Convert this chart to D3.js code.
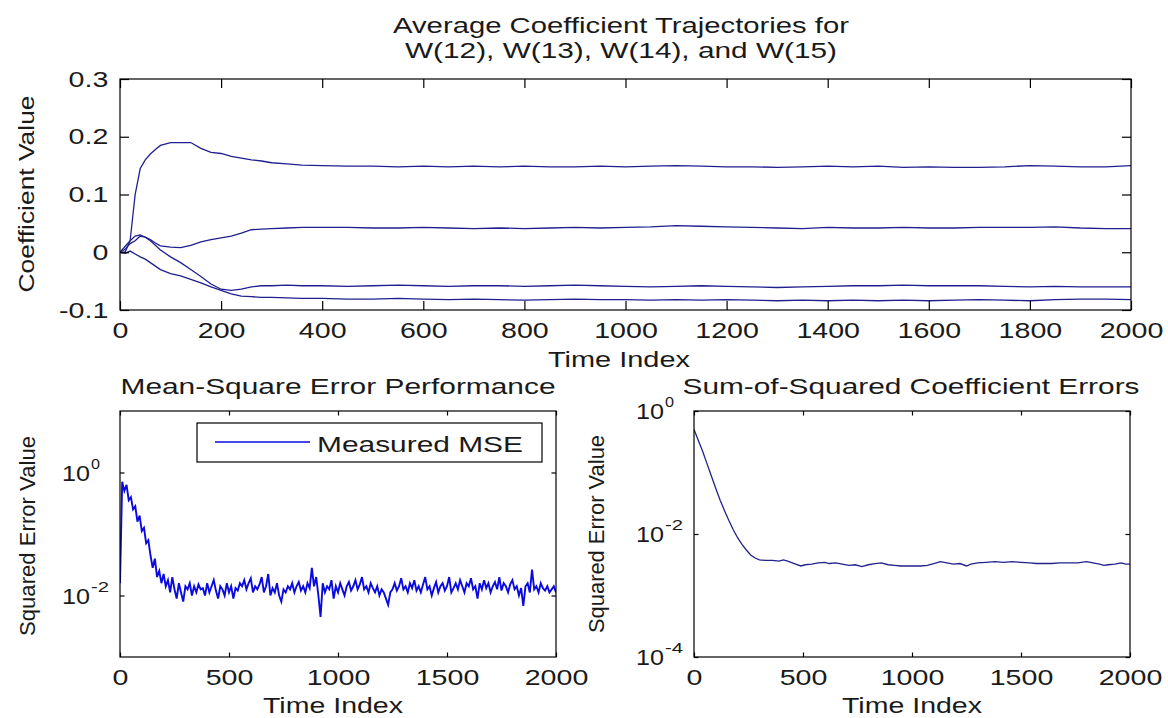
<!DOCTYPE html>
<html>
<head>
<meta charset="utf-8">
<script src="https://cdn.jsdelivr.net/npm/d3@7"></script>
<style>
  body { margin: 0; background: #fff; }
  text { font-family: "Liberation Sans", Arial, sans-serif; fill: #1a1a1a; }
  .axis path, .axis line { stroke: #000; stroke-width: 1.2; }
</style>
</head>
<body>
<div id="chart"></div>
<script>
// Time samples and values for the four coefficient trajectories (top panel).
const topTime = [0, 10, 20, 30, 40, 50, 60, 70, 80, 100, 120, 140, 160, 180, 200, 220, 240, 260, 280, 300,
    330, 360, 400, 450, 500, 550, 600, 650, 700, 750, 800, 850, 900, 950, 1000, 1050, 1100, 1150, 1200, 1250,
    1300, 1350, 1400, 1450, 1500, 1550, 1600, 1650, 1700, 1750, 1800, 1850, 1900, 1950, 2000];
const w12 = [0, 0, 0.02, 0.10, 0.145, 0.16, 0.17, 0.178, 0.185, 0.19, 0.19, 0.19, 0.18, 0.173, 0.171, 0.166, 0.163, 0.16, 0.158, 0.155,
    0.153, 0.151, 0.15, 0.149, 0.149, 0.148, 0.149, 0.148, 0.149, 0.148, 0.149, 0.148, 0.148, 0.149, 0.148, 0.149, 0.150, 0.149, 0.148, 0.148,
    0.147, 0.148, 0.149, 0.148, 0.149, 0.147, 0.148, 0.147, 0.147, 0.148, 0.150, 0.149, 0.148, 0.148, 0.150];
const w13 = [0, 0.005, 0.015, 0.02, 0.028, 0.026, 0.022, 0.016, 0.011, 0.009, 0.008, 0.012, 0.018, 0.022, 0.025, 0.028, 0.033, 0.039, 0.040, 0.041,
    0.042, 0.043, 0.043, 0.043, 0.042, 0.042, 0.043, 0.042, 0.041, 0.042, 0.041, 0.042, 0.043, 0.042, 0.043, 0.044, 0.046, 0.045, 0.044, 0.043,
    0.042, 0.041, 0.043, 0.042, 0.042, 0.043, 0.042, 0.042, 0.043, 0.043, 0.043, 0.044, 0.042, 0.041, 0.041];
const w14 = [0, 0.01, 0.02, 0.028, 0.03, 0.026, 0.02, 0.012, 0.004, -0.008, -0.018, -0.03, -0.042, -0.055, -0.064, -0.066, -0.064, -0.06, -0.058, -0.058,
    -0.057, -0.058, -0.058, -0.059, -0.058, -0.057, -0.058, -0.059, -0.058, -0.058, -0.059, -0.058, -0.057, -0.058, -0.059, -0.06, -0.059, -0.058, -0.059, -0.06,
    -0.061, -0.06, -0.059, -0.058, -0.058, -0.057, -0.058, -0.058, -0.058, -0.059, -0.06, -0.059, -0.06, -0.06, -0.06];
const w15 = [0, -0.002, 0.002, -0.003, -0.008, -0.012, -0.018, -0.024, -0.03, -0.037, -0.041, -0.047, -0.053, -0.06, -0.066, -0.072, -0.076, -0.077, -0.078, -0.078,
    -0.079, -0.080, -0.080, -0.081, -0.081, -0.080, -0.081, -0.082, -0.081, -0.082, -0.083, -0.082, -0.081, -0.082, -0.082, -0.083, -0.082, -0.083, -0.082, -0.083,
    -0.084, -0.083, -0.084, -0.083, -0.084, -0.083, -0.084, -0.083, -0.082, -0.083, -0.084, -0.082, -0.081, -0.081, -0.082];

// Measured MSE, log10 of the value, one sample every 10 time steps from 0 to 2000.
const mseStep = 10;
const mseLog10 = [
    -1.8, -0.15, -0.3, -0.2, -0.45, -0.4, -0.6, -0.55, -0.8, -0.7,
    -0.95, -0.9, -1.15, -1.1, -1.35, -1.55, -1.4, -1.7, -1.6, -1.8,
    -1.65, -1.85, -1.75, -1.95, -1.7, -1.9, -2.05, -1.8, -1.95, -2.1,
    -1.85, -1.9, -1.8, -2.0, -1.85, -1.95, -1.82, -1.9, -1.88, -2.0,
    -1.8, -1.95, -1.85, -1.75, -1.92, -2.05, -1.85, -1.9, -2.0, -1.8,
    -1.95, -1.85, -2.05, -1.88, -1.92, -1.8, -1.85, -1.75, -1.9, -1.8,
    -1.72, -1.95, -1.85, -1.9, -1.82, -1.7, -1.95, -1.85, -1.65, -2.0,
    -1.88, -1.95, -1.8, -2.0, -2.1, -1.9, -1.95, -1.85, -1.9, -1.8,
    -1.95, -1.85, -1.78, -1.92, -1.85, -1.95, -1.8, -1.88, -1.55, -1.85,
    -1.7, -2.0, -2.35, -1.8, -1.95, -1.85, -1.9, -1.75, -2.05, -1.85,
    -1.95, -1.8, -1.9, -2.0, -1.85, -1.78, -1.92, -1.85, -1.75, -1.9,
    -1.82, -1.7, -1.9, -1.85, -1.95, -1.8, -1.88, -1.95, -1.85, -2.0,
    -1.9, -1.95, -2.05, -2.15, -1.95, -1.9, -1.8, -1.92, -1.85, -1.72,
    -1.9, -1.85, -1.95, -1.8, -1.88, -1.75, -1.92, -1.85, -1.95, -1.82,
    -1.7, -1.9, -1.85, -2.0, -1.88, -1.78, -1.95, -1.85, -1.8, -1.92,
    -1.85, -1.7, -1.95, -1.88, -1.8, -1.9, -1.75, -1.85, -1.95, -1.8,
    -1.85, -1.72, -1.9, -1.85, -2.05, -1.8, -1.9, -1.75, -1.88, -1.8,
    -1.95, -1.85, -1.78, -1.9, -1.7, -1.92, -1.8, -1.85, -1.95, -1.82,
    -1.75, -1.9, -1.85, -2.0, -1.88, -2.17, -1.85, -1.8, -1.95, -1.58,
    -1.9, -1.85, -1.95, -1.8, -1.88, -1.92, -1.85, -1.95, -1.9, -1.85,
    -1.95];

// Sum-of-squared coefficient errors, log10 of the value.
const sseTime = [0, 20, 40, 60, 80, 100, 120, 140, 160, 180, 200, 220, 240, 260, 280, 300, 330, 360, 390, 410,
    430, 460, 490, 510, 540, 570, 600, 620, 650, 680, 710, 740, 770, 800, 830, 860, 890, 920, 950, 980,
    1010, 1040, 1070, 1100, 1130, 1160, 1190, 1220, 1250, 1270, 1300, 1340, 1380, 1420, 1460, 1500, 1540, 1570, 1600, 1640,
    1680, 1720, 1760, 1800, 1830, 1860, 1880, 1900, 1930, 1960, 1980, 2000];
const sseLog10 = [-0.3, -0.48, -0.66, -0.86, -1.06, -1.26, -1.45, -1.62, -1.78, -1.93, -2.06, -2.17, -2.26, -2.34, -2.39, -2.42, -2.43, -2.43, -2.44, -2.42,
    -2.44, -2.48, -2.52, -2.50, -2.49, -2.47, -2.46, -2.48, -2.47, -2.49, -2.51, -2.50, -2.53, -2.50, -2.48, -2.47, -2.50, -2.51, -2.52, -2.52,
    -2.52, -2.52, -2.51, -2.48, -2.45, -2.47, -2.49, -2.48, -2.52, -2.49, -2.47, -2.46, -2.45, -2.46, -2.45, -2.46, -2.47, -2.48, -2.48, -2.48,
    -2.47, -2.47, -2.47, -2.45, -2.47, -2.49, -2.51, -2.50, -2.49, -2.47, -2.49, -2.49];

// Tick values and labels.
const topXTicks = [0, 200, 400, 600, 800, 1000, 1200, 1400, 1600, 1800, 2000];
const topYTicks = [-0.1, 0, 0.1, 0.2, 0.3];
const bottomXTicks = [0, 500, 1000, 1500, 2000];
const mseYExponents = [0, -2];
const sseYExponents = [0, -4, -2];
const legendLabels = ["Measured MSE"];

const width = 1168;
const height = 718;
const stretch = 1.3;

const svg = d3.select("#chart")
    .append("svg")
    .attr("width", width)
    .attr("height", height);

// Plot boxes.
const topBox = { left: 120, right: 1131, top: 79, bottom: 310 };
const mseBox = { left: 120, right: 556, top: 411, bottom: 657 };
const sseBox = { left: 694, right: 1130, top: 411, bottom: 657 };

const defs = svg.append("defs");
[["clipTop", topBox], ["clipMse", mseBox], ["clipSse", sseBox]].forEach(function(c) {
    defs.append("clipPath").attr("id", c[0])
        .append("rect")
        .attr("x", c[1].left).attr("y", c[1].top)
        .attr("width", c[1].right - c[1].left).attr("height", c[1].bottom - c[1].top);
});

// Horizontally stretched text helper.
function addText(x, y, str, size, anchor, len) {
    const t = svg.append("text")
        .attr("x", x)
        .attr("y", y)
        .attr("text-anchor", anchor)
        .style("font-size", size + "px")
        .text(str);
    if (len) t.attr("textLength", len).attr("lengthAdjust", "spacingAndGlyphs");
    return t;
}

function addRotated(x, y, str, len) {
    svg.append("text")
        .attr("transform", `translate(${x},${y}) rotate(-90)`)
        .attr("text-anchor", "middle")
        .attr("x", 0).attr("y", 0)
        .attr("textLength", len)
        .attr("lengthAdjust", "spacingAndGlyphs")
        .style("font-size", "22px")
        .text(str);
}

// Draw a MATLAB-like box with inward ticks on all four sides.
function drawFrame(box, xScale, yScale, xTicks, yTicks, tickLen, showYLabels) {
    svg.append("rect")
        .attr("x", box.left).attr("y", box.top)
        .attr("width", box.right - box.left).attr("height", box.bottom - box.top)
        .attr("fill", "none").attr("stroke", "#000").attr("stroke-width", 1.2);

    const bottom = svg.append("g").attr("class", "axis")
        .attr("transform", `translate(0,${box.bottom})`)
        .call(d3.axisBottom(xScale).tickValues(xTicks).tickSizeInner(-tickLen).tickSizeOuter(0).tickPadding(12).tickFormat(String));
    bottom.selectAll("text")
        .style("font-size", "22px")
        .attr("transform", `scale(${stretch},1)`);

    svg.append("g").attr("class", "axis")
        .attr("transform", `translate(0,${box.top})`)
        .call(d3.axisTop(xScale).tickValues(xTicks).tickSizeInner(-tickLen).tickSizeOuter(0).tickFormat(""));

    const left = svg.append("g").attr("class", "axis")
        .attr("transform", `translate(${box.left},0)`)
        .call(d3.axisLeft(yScale).tickValues(yTicks).tickSizeInner(-tickLen).tickSizeOuter(0).tickPadding(9)
            .tickFormat(showYLabels ? String : ""));
    left.selectAll("text")
        .style("font-size", "22px")
        .attr("transform", `scale(${stretch},1)`);

    svg.append("g").attr("class", "axis")
        .attr("transform", `translate(${box.right},0)`)
        .call(d3.axisRight(yScale).tickValues(yTicks).tickSizeInner(-tickLen).tickSizeOuter(0).tickFormat(""));

    svg.selectAll(".axis .domain").remove();
}

// ---------- Top panel ----------
const xTop = d3.scaleLinear().domain([0, 2000]).range([topBox.left, topBox.right]);
const yTop = d3.scaleLinear().domain([-0.1, 0.3]).range([topBox.bottom, topBox.top]);

const topLine = d3.line()
    .x(function(d, i) { return xTop(topTime[i]); })
    .y(function(d) { return yTop(d); });

svg.append("g").attr("clip-path", "url(#clipTop)")
    .selectAll("path")
    .data([w12, w13, w14, w15])
    .join("path")
    .attr("d", topLine)
    .attr("fill", "none")
    .attr("stroke", "#1f1f8f")
    .attr("stroke-width", 1.3);

drawFrame(topBox, xTop, yTop, topXTicks, topYTicks, 9, true);

addText(621, 33, "Average Coefficient Trajectories for", 22, "middle", 456);
addText(621, 58, "W(12), W(13), W(14), and W(15)", 22, "middle", 432);
addText(619, 367, "Time Index", 22, "middle", 142);
addRotated(34, 194, "Coefficient Value", 197);

// ---------- Bottom-left: MSE ----------
const xMse = d3.scaleLinear().domain([0, 2000]).range([mseBox.left, mseBox.right]);
const yMse = d3.scaleLog().domain([1e-3, 1e1]).range([mseBox.bottom, mseBox.top]);

const mseLine = d3.line()
    .x(function(d, i) { return xMse(i * mseStep); })
    .y(function(d) { return yMse(Math.pow(10, d)); });

svg.append("g").attr("clip-path", "url(#clipMse)")
    .append("path")
    .datum(mseLog10)
    .attr("d", mseLine)
    .attr("fill", "none")
    .attr("stroke", "#0a0ae0")
    .attr("stroke-width", 1.9);

drawFrame(mseBox, xMse, yMse, bottomXTicks, mseYExponents.map(function(e) { return Math.pow(10, e); }), 4.5, false);

// Log tick labels 10^n.
function logLabels(box, yScale, exps) {
    exps.forEach(function(e) {
        const y = yScale(Math.pow(10, e));
        addText(box.left - 58, y + 8, "10", 22, "start", 28);
        addText(box.left - 29, y - 4, String(e), 15, "start", e < 0 ? 18 : 9);
    });
}
logLabels(mseBox, yMse, mseYExponents);

// Legend.
svg.append("rect")
    .attr("x", 197).attr("y", 423).attr("width", 345).attr("height", 39)
    .attr("fill", "#fff").attr("stroke", "#000").attr("stroke-width", 1.2);
svg.append("line")
    .attr("x1", 215).attr("x2", 310).attr("y1", 442).attr("y2", 442)
    .attr("stroke", "#0a0ae0").attr("stroke-width", 1.5);
addText(317, 452, legendLabels[0], 22, "start", 206);

addText(338, 394, "Mean-Square Error Performance", 22, "middle", 435);
addText(333, 713, "Time Index", 22, "middle", 140);
addRotated(35, 536, "Squared Error Value", 200);

// ---------- Bottom-right: coefficient errors ----------
const xSse = d3.scaleLinear().domain([0, 2000]).range([sseBox.left, sseBox.right]);
const ySse = d3.scaleLog().domain([1e-4, 1e0]).range([sseBox.bottom, sseBox.top]);

const sseLine = d3.line()
    .x(function(d, i) { return xSse(sseTime[i]); })
    .y(function(d) { return ySse(Math.pow(10, d)); });

svg.append("g").attr("clip-path", "url(#clipSse)")
    .append("path")
    .datum(sseLog10)
    .attr("d", sseLine)
    .attr("fill", "none")
    .attr("stroke", "#22228a")
    .attr("stroke-width", 1.3);

drawFrame(sseBox, xSse, ySse, bottomXTicks, sseYExponents.map(function(e) { return Math.pow(10, e); }), 4.5, false);
logLabels(sseBox, ySse, sseYExponents);

addText(911, 394, "Sum-of-Squared Coefficient Errors", 22, "middle", 457);
addText(912, 713, "Time Index", 22, "middle", 140);
addRotated(604, 534, "Squared Error Value", 198);
</script>
</body>
</html>
